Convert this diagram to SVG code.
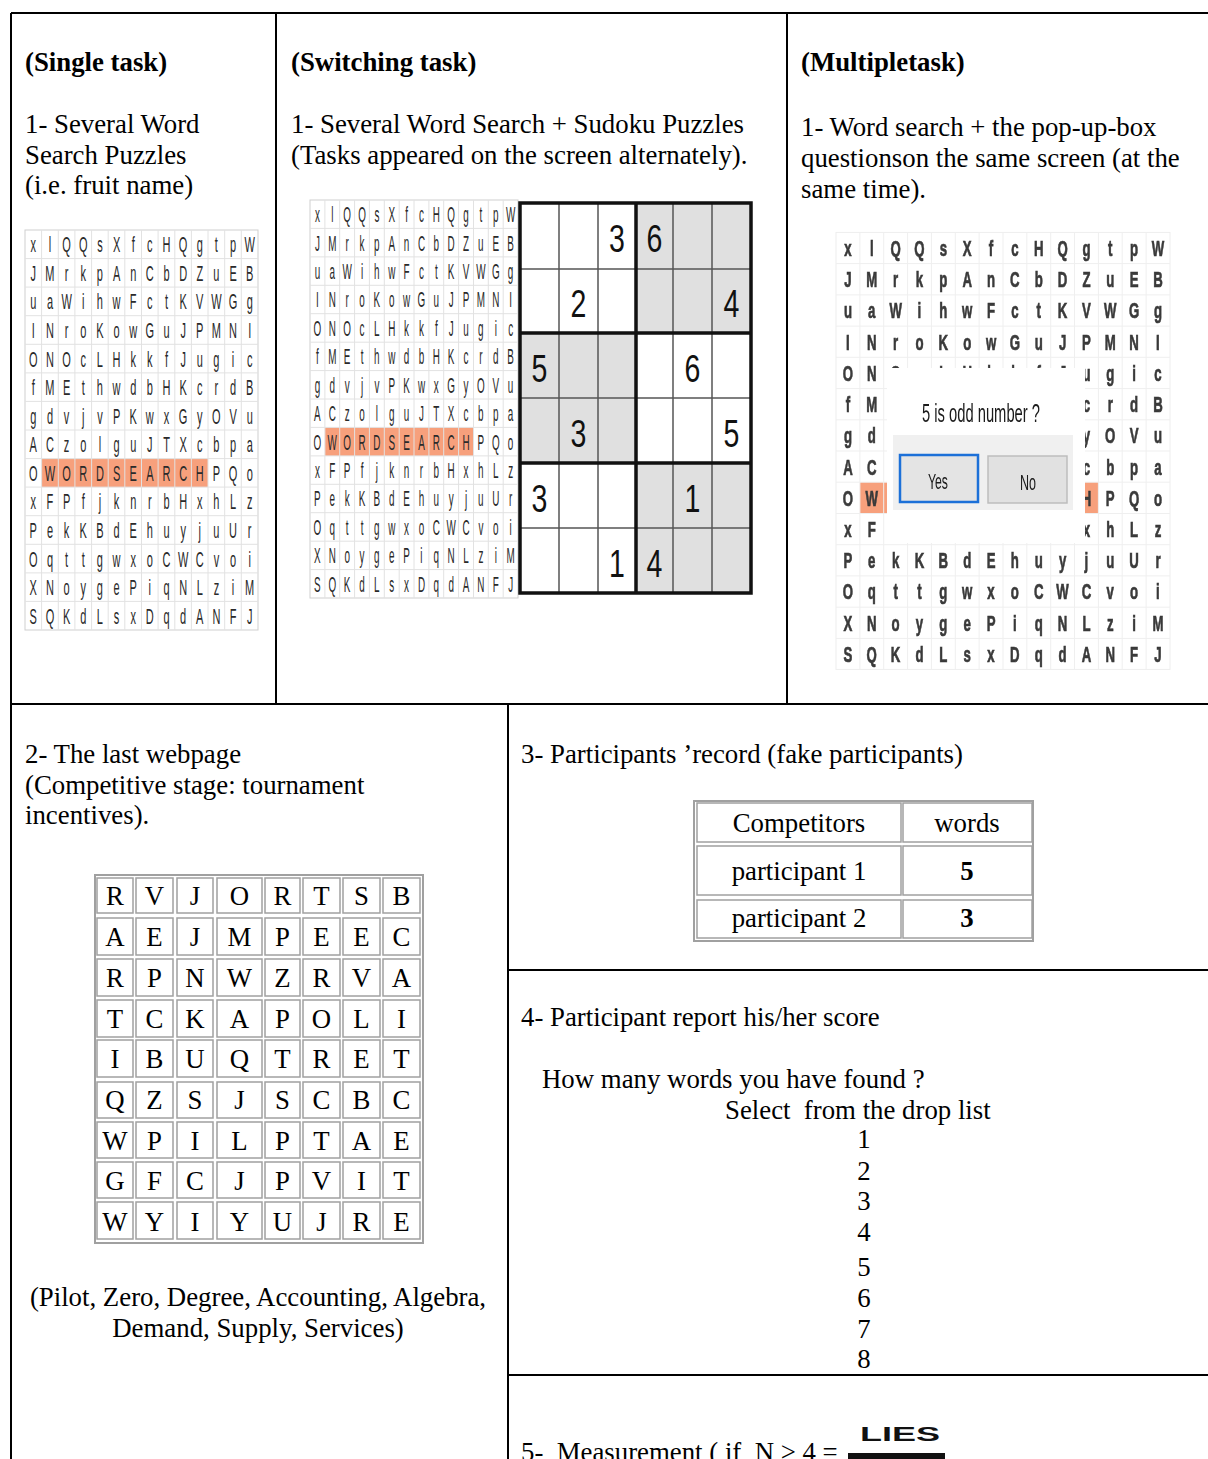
<svg xmlns="http://www.w3.org/2000/svg" width="1208" height="1459" viewBox="0 0 1208 1459">
<style>
.t{font-family:"Liberation Serif","Times New Roman",serif;font-size:26.8px;fill:#000}
.b{font-weight:bold}
.c{text-anchor:middle}
.ws{font-family:"Liberation Sans",Arial,sans-serif;font-size:22px;fill:#2a2a2a;text-anchor:middle}
.wm{font-family:"Liberation Sans",Arial,sans-serif;font-size:22px;font-weight:bold;fill:#3a3a3a;stroke:#3a3a3a;stroke-width:0.7;text-anchor:middle}
.gl{fill:none;stroke:#e2e2e2;stroke-width:1}
.go{fill:#fff;stroke:#cfcfcf;stroke-width:1}
.frame{fill:none;stroke:#000;stroke-width:2}
.sd{font-family:"Liberation Sans",Arial,sans-serif;font-size:38px;fill:#111;text-anchor:middle}
.cell{fill:#fff;stroke:#a0a0a0;stroke-width:1.5}
.hl{fill:#F7A07C}
.thin{fill:none;stroke:#555;stroke-width:1.5}
.thick{fill:none;stroke:#111;stroke-width:3.5}
.pop{font-family:"Liberation Sans",Arial,sans-serif;fill:#1a1a1a}
</style>
<defs>
<filter id="soft" x="-5%" y="-5%" width="110%" height="110%"><feGaussianBlur stdDeviation="0.6"/></filter>
</defs>

<g id="frame">
<path class="frame" d="M11,13 H1208 M11,13 V1459 M276,13 V704 M787,13 V704 M11,704 H1208 M508,704 V1459 M508,970 H1208 M508,1375 H1208"/>
</g>

<g id="single-task">
<text class="t b" x="25" y="71">(Single task)</text>
<text class="t" x="25" y="133">1- Several Word</text>
<text class="t" x="25" y="164">Search Puzzles</text>
<text class="t" x="25" y="194">(i.e. fruit name)</text>
<rect class="go" x="25" y="230" width="233" height="400"/>
<rect class="hl" x="41.6" y="458.6" width="166.4" height="28.5"/>
<path class="gl" d="M41.6,230V630M58.3,230V630M74.9,230V630M91.6,230V630M108.2,230V630M124.8,230V630M141.5,230V630M158.1,230V630M174.8,230V630M191.4,230V630M208,230V630M224.7,230V630M241.3,230V630M25,258.6H258M25,287.1H258M25,315.7H258M25,344.3H258M25,372.9H258M25,401.4H258M25,430H258M25,458.6H258M25,487.1H258M25,515.7H258M25,544.3H258M25,572.9H258M25,601.4H258"/>
<g transform="translate(25,230) scale(0.5,1)" class="ws">
<text x="16.6 49.9 83.2 116.5 149.8 183.1 216.4 249.7 283 316.3 349.5 382.8 416.1 449.4" y="22.3">xlQQsXfcHQgtpW</text>
<text x="16.6 49.9 83.2 116.5 149.8 183.1 216.4 249.7 283 316.3 349.5 382.8 416.1 449.4" y="50.9">JMrkpAnCbDZuEB</text>
<text x="16.6 49.9 83.2 116.5 149.8 183.1 216.4 249.7 283 316.3 349.5 382.8 416.1 449.4" y="79.4">uaWihwFctKVWGg</text>
<text x="16.6 49.9 83.2 116.5 149.8 183.1 216.4 249.7 283 316.3 349.5 382.8 416.1 449.4" y="108">INroKowGuJPMNI</text>
<text x="16.6 49.9 83.2 116.5 149.8 183.1 216.4 249.7 283 316.3 349.5 382.8 416.1 449.4" y="136.6">ONOcLHkkfJugic</text>
<text x="16.6 49.9 83.2 116.5 149.8 183.1 216.4 249.7 283 316.3 349.5 382.8 416.1 449.4" y="165.2">fMEthwdbHKcrdB</text>
<text x="16.6 49.9 83.2 116.5 149.8 183.1 216.4 249.7 283 316.3 349.5 382.8 416.1 449.4" y="193.7">gdvjvPKwxGyOVu</text>
<text x="16.6 49.9 83.2 116.5 149.8 183.1 216.4 249.7 283 316.3 349.5 382.8 416.1 449.4" y="222.3">ACzolguJTXcbpa</text>
<text x="16.6 49.9 83.2 116.5 149.8 183.1 216.4 249.7 283 316.3 349.5 382.8 416.1 449.4" y="250.9">OWORDSEARCHPQo</text>
<text x="16.6 49.9 83.2 116.5 149.8 183.1 216.4 249.7 283 316.3 349.5 382.8 416.1 449.4" y="279.4">xFPfjknrbHxhLz</text>
<text x="16.6 49.9 83.2 116.5 149.8 183.1 216.4 249.7 283 316.3 349.5 382.8 416.1 449.4" y="308">PekKBdEhuyjuUr</text>
<text x="16.6 49.9 83.2 116.5 149.8 183.1 216.4 249.7 283 316.3 349.5 382.8 416.1 449.4" y="336.6">OqttgwxoCWCvoi</text>
<text x="16.6 49.9 83.2 116.5 149.8 183.1 216.4 249.7 283 316.3 349.5 382.8 416.1 449.4" y="365.1">XNoygePiqNLziM</text>
<text x="16.6 49.9 83.2 116.5 149.8 183.1 216.4 249.7 283 316.3 349.5 382.8 416.1 449.4" y="393.7">SQKdLsxDqdANFJ</text>
</g>
</g>

<g id="switching-task">
<text class="t b" x="291" y="71">(Switching task)</text>
<text class="t" x="291" y="133">1- Several Word Search + Sudoku Puzzles</text>
<text class="t" x="291" y="164">(Tasks appeared on the screen alternately).</text>
<rect class="go" x="310" y="200" width="208" height="398"/>
<rect class="hl" x="324.9" y="427.4" width="148.6" height="28.5"/>
<path class="gl" d="M324.9,200V598M339.7,200V598M354.6,200V598M369.4,200V598M384.3,200V598M399.2,200V598M414,200V598M428.9,200V598M443.7,200V598M458.6,200V598M473.5,200V598M488.3,200V598M503.2,200V598M310,228.4H518M310,256.9H518M310,285.3H518M310,313.7H518M310,342.2H518M310,370.6H518M310,399H518M310,427.4H518M310,455.9H518M310,484.3H518M310,512.7H518M310,541.2H518M310,569.6H518"/>
<g transform="translate(310,200) scale(0.45,1)" class="ws">
<text x="16.5 49.5 82.6 115.6 148.6 181.6 214.6 247.7 280.7 313.7 346.7 379.7 412.8 445.8" y="22.2">xlQQsXfcHQgtpW</text>
<text x="16.5 49.5 82.6 115.6 148.6 181.6 214.6 247.7 280.7 313.7 346.7 379.7 412.8 445.8" y="50.6">JMrkpAnCbDZuEB</text>
<text x="16.5 49.5 82.6 115.6 148.6 181.6 214.6 247.7 280.7 313.7 346.7 379.7 412.8 445.8" y="79.1">uaWihwFctKVWGg</text>
<text x="16.5 49.5 82.6 115.6 148.6 181.6 214.6 247.7 280.7 313.7 346.7 379.7 412.8 445.8" y="107.5">INroKowGuJPMNI</text>
<text x="16.5 49.5 82.6 115.6 148.6 181.6 214.6 247.7 280.7 313.7 346.7 379.7 412.8 445.8" y="135.9">ONOcLHkkfJugic</text>
<text x="16.5 49.5 82.6 115.6 148.6 181.6 214.6 247.7 280.7 313.7 346.7 379.7 412.8 445.8" y="164.4">fMEthwdbHKcrdB</text>
<text x="16.5 49.5 82.6 115.6 148.6 181.6 214.6 247.7 280.7 313.7 346.7 379.7 412.8 445.8" y="192.8">gdvjvPKwxGyOVu</text>
<text x="16.5 49.5 82.6 115.6 148.6 181.6 214.6 247.7 280.7 313.7 346.7 379.7 412.8 445.8" y="221.2">ACzolguJTXcbpa</text>
<text x="16.5 49.5 82.6 115.6 148.6 181.6 214.6 247.7 280.7 313.7 346.7 379.7 412.8 445.8" y="249.6">OWORDSEARCHPQo</text>
<text x="16.5 49.5 82.6 115.6 148.6 181.6 214.6 247.7 280.7 313.7 346.7 379.7 412.8 445.8" y="278.1">xFPfjknrbHxhLz</text>
<text x="16.5 49.5 82.6 115.6 148.6 181.6 214.6 247.7 280.7 313.7 346.7 379.7 412.8 445.8" y="306.5">PekKBdEhuyjuUr</text>
<text x="16.5 49.5 82.6 115.6 148.6 181.6 214.6 247.7 280.7 313.7 346.7 379.7 412.8 445.8" y="334.9">OqttgwxoCWCvoi</text>
<text x="16.5 49.5 82.6 115.6 148.6 181.6 214.6 247.7 280.7 313.7 346.7 379.7 412.8 445.8" y="363.4">XNoygePiqNLziM</text>
<text x="16.5 49.5 82.6 115.6 148.6 181.6 214.6 247.7 280.7 313.7 346.7 379.7 412.8 445.8" y="391.8">SQKdLsxDqdANFJ</text>
</g>
<g id="sudoku">
<rect x="520" y="203" width="231" height="390" fill="#fff"/>
<rect x="636" y="203" width="115" height="130" fill="#e0e0e0"/>
<rect x="520" y="333" width="116" height="130" fill="#e0e0e0"/>
<rect x="636" y="463" width="115" height="130" fill="#e0e0e0"/>
<path class="thin" d="M559,203V593M598,203V593M673,203V593M712,203V593M520,269H751M520,398H751M520,528H751"/>
<path class="thick" d="M636,203V593M520,333H751M520,463H751"/>
<rect class="thick" x="520" y="203" width="231" height="390"/>
<text class="sd" transform="translate(617,252) scale(0.75,1)">3</text>
<text class="sd" transform="translate(654.5,252) scale(0.75,1)">6</text>
<text class="sd" transform="translate(578.5,317) scale(0.75,1)">2</text>
<text class="sd" transform="translate(731.5,317) scale(0.75,1)">4</text>
<text class="sd" transform="translate(539.5,382) scale(0.75,1)">5</text>
<text class="sd" transform="translate(692.5,382) scale(0.75,1)">6</text>
<text class="sd" transform="translate(578.5,447) scale(0.75,1)">3</text>
<text class="sd" transform="translate(731.5,447) scale(0.75,1)">5</text>
<text class="sd" transform="translate(539.5,512) scale(0.75,1)">3</text>
<text class="sd" transform="translate(692.5,512) scale(0.75,1)">1</text>
<text class="sd" transform="translate(617,577) scale(0.75,1)">1</text>
<text class="sd" transform="translate(654.5,577) scale(0.75,1)">4</text>
</g>
</g>

<g id="multiple-task">
<text class="t b" x="801" y="71">(Multipletask)</text>
<text class="t" x="801" y="136">1- Word search + the pop-up-box</text>
<text class="t" x="801" y="167">questionson the same screen (at the</text>
<text class="t" x="801" y="198">same time).</text>
<rect x="836" y="232.4" width="334" height="437" fill="#fff" stroke="#eeeeee"/>
<rect class="hl" x="859.9" y="482.2" width="238.5" height="31.2"/>
<path fill="none" stroke="#efefef" d="M859.9,232V670M883.7,232V670M907.6,232V670M931.4,232V670M955.3,232V670M979.1,232V670M1003,232V670M1026.8,232V670M1050.7,232V670M1074.5,232V670M1098.4,232V670M1122.2,232V670M1146.1,232V670M836,263.6H1170M836,294.9H1170M836,326.1H1170M836,357.3H1170M836,388.6H1170M836,419.8H1170M836,451H1170M836,482.2H1170M836,513.5H1170M836,544.7H1170M836,575.9H1170M836,607.2H1170M836,638.4H1170"/>
<g transform="translate(836,232.4) scale(0.6,1)" class="wm" filter="url(#soft)">
<text x="19.9 59.6 99.4 139.1 178.9 218.6 258.4 298.1 337.9 377.6 417.4 457.1 496.9 536.6" y="23.6">xlQQsXfcHQgtpW</text>
<text x="19.9 59.6 99.4 139.1 178.9 218.6 258.4 298.1 337.9 377.6 417.4 457.1 496.9 536.6" y="54.8">JMrkpAnCbDZuEB</text>
<text x="19.9 59.6 99.4 139.1 178.9 218.6 258.4 298.1 337.9 377.6 417.4 457.1 496.9 536.6" y="86.1">uaWihwFctKVWGg</text>
<text x="19.9 59.6 99.4 139.1 178.9 218.6 258.4 298.1 337.9 377.6 417.4 457.1 496.9 536.6" y="117.3">INroKowGuJPMNI</text>
<text x="19.9 59.6 99.4 139.1 178.9 218.6 258.4 298.1 337.9 377.6 417.4 457.1 496.9 536.6" y="148.5">ONOcLHkkfJugic</text>
<text x="19.9 59.6" y="179.8">fM</text><text x="417.4 457.1 496.9 536.6" y="179.8">crdB</text>
<text x="19.9 59.6" y="211">gd</text><text x="417.4 457.1 496.9 536.6" y="211">yOVu</text>
<text x="19.9 59.6" y="242.2">AC</text><text x="417.4 457.1 496.9 536.6" y="242.2">cbpa</text>
<text x="19.9 59.6" y="273.4">OW</text><text x="417.4 457.1 496.9 536.6" y="273.4">HPQo</text>
<text x="19.9 59.6" y="304.7">xF</text><text x="417.4 457.1 496.9 536.6" y="304.7">xhLz</text>
<text x="19.9 59.6 99.4 139.1 178.9 218.6 258.4 298.1 337.9 377.6 417.4 457.1 496.9 536.6" y="335.9">PekKBdEhuyjuUr</text>
<text x="19.9 59.6 99.4 139.1 178.9 218.6 258.4 298.1 337.9 377.6 417.4 457.1 496.9 536.6" y="367.1">OqttgwxoCWCvoi</text>
<text x="19.9 59.6 99.4 139.1 178.9 218.6 258.4 298.1 337.9 377.6 417.4 457.1 496.9 536.6" y="398.4">XNoygePiqNLziM</text>
<text x="19.9 59.6 99.4 139.1 178.9 218.6 258.4 298.1 337.9 377.6 417.4 457.1 496.9 536.6" y="429.6">SQKdLsxDqdANFJ</text>
</g>
<g id="popup" filter="url(#soft)">
<rect x="887" y="368" width="198" height="175" fill="#fff"/>
<text class="pop" x="922" y="422" font-size="25" textLength="118" lengthAdjust="spacingAndGlyphs">5 is odd number  ?</text>
<rect x="893" y="435" width="180" height="75" fill="#f0f0f0"/>
<rect x="900" y="455" width="78" height="47" fill="#e4e4e4" stroke="#1a6fd8" stroke-width="2.5"/>
<rect x="988" y="456" width="79" height="47" fill="#e1e1e1" stroke="#bdbdbd" stroke-width="1.5"/>
<text class="pop" x="938" y="489" font-size="22" text-anchor="middle" textLength="20" lengthAdjust="spacingAndGlyphs">Yes</text>
<text class="pop" x="1028" y="490" font-size="22" text-anchor="middle" textLength="16" lengthAdjust="spacingAndGlyphs">No</text>
</g>
</g>

<g id="last-webpage">
<text class="t" x="25" y="763">2- The last webpage</text>
<text class="t" x="25" y="794">(Competitive stage: tournament</text>
<text class="t" x="25" y="824">incentives).</text>
<rect x="95" y="875" width="328" height="368" fill="#fff" stroke="#a0a0a0" stroke-width="2"/>
<g id="letter-cells">
<rect class="cell" x="97" y="878" width="36" height="35"/><rect class="cell" x="136" y="878" width="37" height="35"/><rect class="cell" x="177" y="878" width="36" height="35"/><rect class="cell" x="217" y="878" width="45" height="35"/><rect class="cell" x="265" y="878" width="35" height="35"/><rect class="cell" x="303" y="878" width="37" height="35"/><rect class="cell" x="343" y="878" width="37" height="35"/><rect class="cell" x="383" y="878" width="37" height="35"/>
<rect class="cell" x="97" y="918" width="36" height="37"/><rect class="cell" x="136" y="918" width="37" height="37"/><rect class="cell" x="177" y="918" width="36" height="37"/><rect class="cell" x="217" y="918" width="45" height="37"/><rect class="cell" x="265" y="918" width="35" height="37"/><rect class="cell" x="303" y="918" width="37" height="37"/><rect class="cell" x="343" y="918" width="37" height="37"/><rect class="cell" x="383" y="918" width="37" height="37"/>
<rect class="cell" x="97" y="959" width="36" height="37"/><rect class="cell" x="136" y="959" width="37" height="37"/><rect class="cell" x="177" y="959" width="36" height="37"/><rect class="cell" x="217" y="959" width="45" height="37"/><rect class="cell" x="265" y="959" width="35" height="37"/><rect class="cell" x="303" y="959" width="37" height="37"/><rect class="cell" x="343" y="959" width="37" height="37"/><rect class="cell" x="383" y="959" width="37" height="37"/>
<rect class="cell" x="97" y="1000" width="36" height="37"/><rect class="cell" x="136" y="1000" width="37" height="37"/><rect class="cell" x="177" y="1000" width="36" height="37"/><rect class="cell" x="217" y="1000" width="45" height="37"/><rect class="cell" x="265" y="1000" width="35" height="37"/><rect class="cell" x="303" y="1000" width="37" height="37"/><rect class="cell" x="343" y="1000" width="37" height="37"/><rect class="cell" x="383" y="1000" width="37" height="37"/>
<rect class="cell" x="97" y="1040" width="36" height="37"/><rect class="cell" x="136" y="1040" width="37" height="37"/><rect class="cell" x="177" y="1040" width="36" height="37"/><rect class="cell" x="217" y="1040" width="45" height="37"/><rect class="cell" x="265" y="1040" width="35" height="37"/><rect class="cell" x="303" y="1040" width="37" height="37"/><rect class="cell" x="343" y="1040" width="37" height="37"/><rect class="cell" x="383" y="1040" width="37" height="37"/>
<rect class="cell" x="97" y="1082" width="36" height="36"/><rect class="cell" x="136" y="1082" width="37" height="36"/><rect class="cell" x="177" y="1082" width="36" height="36"/><rect class="cell" x="217" y="1082" width="45" height="36"/><rect class="cell" x="265" y="1082" width="35" height="36"/><rect class="cell" x="303" y="1082" width="37" height="36"/><rect class="cell" x="343" y="1082" width="37" height="36"/><rect class="cell" x="383" y="1082" width="37" height="36"/>
<rect class="cell" x="97" y="1122" width="36" height="36"/><rect class="cell" x="136" y="1122" width="37" height="36"/><rect class="cell" x="177" y="1122" width="36" height="36"/><rect class="cell" x="217" y="1122" width="45" height="36"/><rect class="cell" x="265" y="1122" width="35" height="36"/><rect class="cell" x="303" y="1122" width="37" height="36"/><rect class="cell" x="343" y="1122" width="37" height="36"/><rect class="cell" x="383" y="1122" width="37" height="36"/>
<rect class="cell" x="97" y="1162" width="36" height="36"/><rect class="cell" x="136" y="1162" width="37" height="36"/><rect class="cell" x="177" y="1162" width="36" height="36"/><rect class="cell" x="217" y="1162" width="45" height="36"/><rect class="cell" x="265" y="1162" width="35" height="36"/><rect class="cell" x="303" y="1162" width="37" height="36"/><rect class="cell" x="343" y="1162" width="37" height="36"/><rect class="cell" x="383" y="1162" width="37" height="36"/>
<rect class="cell" x="97" y="1202" width="36" height="37"/><rect class="cell" x="136" y="1202" width="37" height="37"/><rect class="cell" x="177" y="1202" width="36" height="37"/><rect class="cell" x="217" y="1202" width="45" height="37"/><rect class="cell" x="265" y="1202" width="35" height="37"/><rect class="cell" x="303" y="1202" width="37" height="37"/><rect class="cell" x="343" y="1202" width="37" height="37"/><rect class="cell" x="383" y="1202" width="37" height="37"/>
</g>
<g class="t c">
<text x="115 154.5 195 239.5 282.5 321.5 361.5 401.5" y="905">RVJORTSB</text>
<text x="115 154.5 195 239.5 282.5 321.5 361.5 401.5" y="946">AEJMPEEC</text>
<text x="115 154.5 195 239.5 282.5 321.5 361.5 401.5" y="987">RPNWZRVA</text>
<text x="115 154.5 195 239.5 282.5 321.5 361.5 401.5" y="1028">TCKAPOLI</text>
<text x="115 154.5 195 239.5 282.5 321.5 361.5 401.5" y="1068">IBUQTRET</text>
<text x="115 154.5 195 239.5 282.5 321.5 361.5 401.5" y="1109">QZSJSCBC</text>
<text x="115 154.5 195 239.5 282.5 321.5 361.5 401.5" y="1150">WPILPTAE</text>
<text x="115 154.5 195 239.5 282.5 321.5 361.5 401.5" y="1190">GFCJPVIT</text>
<text x="115 154.5 195 239.5 282.5 321.5 361.5 401.5" y="1231">WYIYUJRE</text>
</g>
<text class="t c" x="258" y="1306">(Pilot, Zero, Degree, Accounting, Algebra,</text>
<text class="t c" x="258" y="1337">Demand, Supply, Services)</text>
</g>

<g id="participants-record">
<text class="t" x="521" y="763">3- Participants ’record (fake participants)</text>
<rect x="694" y="801" width="339" height="140" fill="#fff" stroke="#a0a0a0" stroke-width="2"/>
<rect class="cell" x="697" y="803" width="204" height="39"/>
<rect class="cell" x="903" y="803" width="129" height="39"/>
<rect class="cell" x="697" y="846" width="204" height="49"/>
<rect class="cell" x="903" y="846" width="129" height="49"/>
<rect class="cell" x="697" y="900" width="204" height="38"/>
<rect class="cell" x="903" y="900" width="129" height="38"/>
<text class="t c" x="799" y="832">Competitors</text>
<text class="t c" x="967" y="832">words</text>
<text class="t c" x="799" y="880">participant 1</text>
<text class="t c b" x="967" y="880">5</text>
<text class="t c" x="799" y="927">participant 2</text>
<text class="t c b" x="967" y="927">3</text>
</g>

<g id="report-score">
<text class="t" x="521" y="1026">4- Participant report his/her score</text>
<text class="t" x="542" y="1088">How many words you have found ?</text>
<text class="t" x="725" y="1119" xml:space="preserve">Select  from the drop list</text>
<text class="t c" x="864" y="1148">1</text>
<text class="t c" x="864" y="1180">2</text>
<text class="t c" x="864" y="1210">3</text>
<text class="t c" x="864" y="1241">4</text>
<text class="t c" x="864" y="1276">5</text>
<text class="t c" x="864" y="1307">6</text>
<text class="t c" x="864" y="1338">7</text>
<text class="t c" x="864" y="1368">8</text>
</g>

<g id="measurement">
<text class="t" x="521" y="1461" xml:space="preserve">5-  Measurement ( if  N &gt; 4 = </text>
<text x="860" y="1441" font-family="'Liberation Sans',Arial,sans-serif" font-size="20" font-weight="bold" fill="#111" textLength="80" lengthAdjust="spacingAndGlyphs">LIES</text>
<rect x="848" y="1453" width="97" height="6" fill="#111"/>
</g>
</svg>
